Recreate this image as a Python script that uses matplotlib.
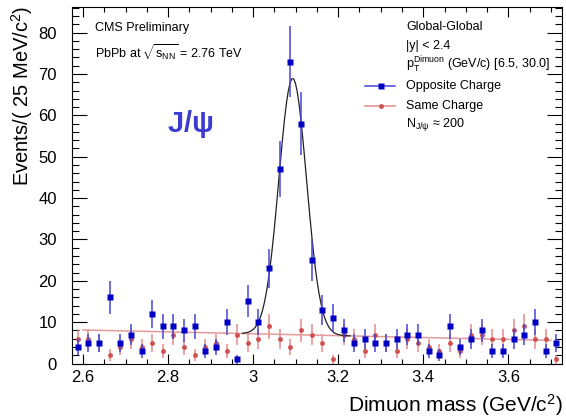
import numpy as np
import matplotlib

matplotlib.use("Agg")

from matplotlib import pyplot as plt  # noqa: E402
from matplotlib.ticker import MultipleLocator  # noqa: E402

plt.rcParams["font.family"] = ["Liberation Sans", "DejaVu Sans"]
plt.rcParams["mathtext.fontset"] = "custom"
plt.rcParams["mathtext.rm"] = "Liberation Sans"
plt.rcParams["mathtext.it"] = "Liberation Sans:italic"
plt.rcParams["mathtext.bf"] = "Liberation Sans:bold"

# bin centres of the 25 MeV histogram (GeV/c^2)
mass = [
    2.5875, 2.6125, 2.6375, 2.6625, 2.6875, 2.7125, 2.7375, 2.7625, 2.7875, 2.8125,
    2.8375, 2.8625, 2.8875, 2.9125, 2.9375, 2.9625, 2.9875, 3.0125, 3.0375, 3.0625,
    3.0875, 3.1125, 3.1375, 3.1625, 3.1875, 3.2125, 3.2375, 3.2625, 3.2875, 3.3125,
    3.3375, 3.3625, 3.3875, 3.4125, 3.4375, 3.4625, 3.4875, 3.5125, 3.5375, 3.5625,
    3.5875, 3.6125, 3.6375, 3.6625, 3.6875, 3.7125,
]
opposite_charge = [
    4, 5, 5, 16, 5, 7, 3, 12, 9, 9,
    8, 9, 3, 4, 10, 1, 15, 10, 23, 47,
    73, 58, 25, 13, 11, 8, 5, 6, 5, 5,
    6, 7, 7, 3, 2, 9, 4, 6, 8, 3,
    3, 6, 7, 10, 3, 5,
]
same_charge = [
    6, 6, 5, 2, 4, 6, 4, 5, 3, 7,
    4, 2, 4, 5, 3, 7, 5, 6, 9, 6,
    4, 8, 7, 5, 1, 7, 6, 3, 7, 5,
    3, 6, 5, 4, 3, 5, 3, 7, 7, 6,
    6, 8, 9, 6, 6, 1,
]

# fit results
bkg_range = (2.6, 3.7)
bkg_at_edges = (8.1, 5.6)
peak_range = (2.975, 3.228)
peak_amp = 62.0
peak_mean = 3.093
peak_sigma = 0.0325

W, H = 566, 419
BLUE = "#0000c4"
BLUE_ERR = "#4646d6"
RED = "#d05050"
RED_ERR = "#e68a8a"
RED_LINE = "#e39a9a"


def background(x):
    slope = (bkg_at_edges[1] - bkg_at_edges[0]) / (bkg_range[1] - bkg_range[0])
    return bkg_at_edges[0] + slope * (x - bkg_range[0])


def fx(px):
    return px / W


def fy(py):
    return 1 - py / H


fig = plt.figure(figsize=(W / 100, H / 100), dpi=100)
ax = fig.add_axes([fx(72.4), fy(363.5), (561.5 - 72.4) / W, (363.5 - 7) / H])

x = np.array(mass)
oc = np.array(opposite_charge, dtype=float)
sc = np.array(same_charge, dtype=float)

ax.errorbar(x, sc, yerr=np.sqrt(sc), fmt="none", ecolor=RED_ERR, elinewidth=1.1, zorder=2)
ax.plot(x, sc, "o", color=RED, ms=3.5, mec="none", zorder=3)

xb = np.linspace(*bkg_range, 200)
ax.plot(xb, background(xb), color=RED_LINE, lw=1.1, zorder=2.5)

xs = np.linspace(*peak_range, 60)
ax.plot(xs, background(xs) + peak_amp * np.exp(-0.5 * ((xs - peak_mean) / peak_sigma) ** 2),
        color="#222222", lw=0.9, zorder=4)

ax.errorbar(x, oc, yerr=np.sqrt(oc), fmt="none", ecolor=BLUE_ERR, elinewidth=1.1, zorder=5)
ax.plot(x, oc, "s", color=BLUE, ms=4.3, mec="none", zorder=6)

ax.set_xlim(2.575, 3.725)
ax.set_ylim(0, 86.2)
ax.xaxis.set_major_locator(MultipleLocator(0.2))
ax.xaxis.set_minor_locator(MultipleLocator(0.05))
ax.yaxis.set_major_locator(MultipleLocator(10))
ax.yaxis.set_minor_locator(MultipleLocator(2))
ax.xaxis.set_major_formatter(lambda v, _: f"{v:g}")
ax.tick_params(which="both", direction="in", top=True, right=True, width=0.8, labelsize=12)
ax.tick_params(axis="x", which="major", length=7.5, pad=5)
ax.tick_params(axis="x", which="minor", length=3.8)
ax.tick_params(axis="y", which="major", length=10.5, pad=11)
ax.tick_params(axis="y", which="minor", length=5.3)
for spine in ax.spines.values():
    spine.set_linewidth(0.8)

fig.text(fx(563), fy(405), r"Dimuon mass (GeV/c$^{2}$)", ha="right", va="center", fontsize=15)
fig.text(fx(22), fy(6), r"Events/( 25 MeV/c$^{2}$)", ha="center", va="top", rotation=90, fontsize=14.5)

fig.text(fx(95), fy(28), "CMS Preliminary", ha="left", va="center", fontsize=9)
fig.text(fx(95), fy(53), r"PbPb at $\sqrt{\mathrm{s}_{\mathrm{NN}}}$ = 2.76 TeV", ha="left", va="center", fontsize=9)
fig.text(fx(167), fy(124), r"J/$\mathbf{\psi}$", ha="left", va="center", fontsize=21,
         fontweight="bold", color="#3c3cd2")

fig.text(fx(406), fy(27), "Global-Global", ha="left", va="center", fontsize=9)
fig.text(fx(406), fy(46), "|y| < 2.4", ha="left", va="center", fontsize=9)
fig.text(fx(406), fy(65), r"p$_{\mathrm{T}}^{\mathrm{Dimuon}}$ (GeV/c) [6.5, 30.0]", ha="left", va="center", fontsize=9)
fig.text(fx(406), fy(86), "Opposite Charge", ha="left", va="center", fontsize=9)
fig.text(fx(406), fy(106), "Same Charge", ha="left", va="center", fontsize=9)
fig.text(fx(406), fy(125), r"N$_{\mathrm{J/\psi}}$ ≈ 200", ha="left", va="center", fontsize=9)

fig.add_artist(plt.Line2D([fx(365), fx(395)], [fy(86), fy(86)], color=BLUE_ERR, lw=1.1))
fig.add_artist(plt.Line2D([fx(380.5)], [fy(86)], marker="s", color=BLUE, ms=4.3, mec="none"))
fig.add_artist(plt.Line2D([fx(365), fx(395)], [fy(106), fy(106)], color=RED_ERR, lw=1.1))
fig.add_artist(plt.Line2D([fx(380.5)], [fy(106)], marker="o", color=RED, ms=3.5, mec="none"))

fig.savefig("out.png", dpi=100)
